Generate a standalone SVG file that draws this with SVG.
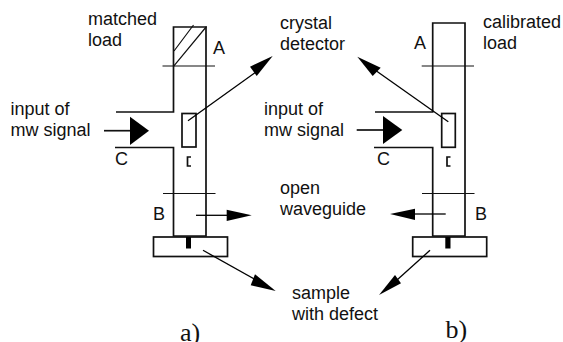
<svg xmlns="http://www.w3.org/2000/svg" width="563" height="342" viewBox="0 0 563 342">
<style>
text{font-family:"Liberation Sans",Arial,sans-serif;font-size:18px;fill:#111}
.s{font-family:"Liberation Serif","Times New Roman",serif;font-size:26px}
.w{fill:none;stroke:#111;stroke-width:1.7}
.t{fill:none;stroke:#111;stroke-width:1.2}
.a{stroke:#000;stroke-width:1.3;fill:none}
.h{fill:#000;stroke:none}
.d{fill:#000;stroke:none}
</style>
<rect width="563" height="342" fill="#fff"/>
<g id="waveguide-a">
<path class="w" d="M116 112H173.500V27H206V236H173.500V147.500H115"/>
<path class="t" d="M162.500 66H215M163 193.500H215.500"/>
<path class="t" d="M174 51L193.500 25M173.500 66.300L206.500 26.500"/>
<rect class="w" x="182" y="113.500" width="14" height="33.500"/>
<path class="w" d="M191 157H187.500V166H191"/>
<rect class="w" x="153.500" y="237" width="74" height="19.500"/>
<rect class="d" x="186" y="237" width="5" height="11.500"/>
</g>
<g id="waveguide-b">
<path class="w" d="M375 112H432.700V23H465V236H432.700V147.500H374"/>
<path class="t" d="M421.700 66H474M422 193.500H474.500"/>
<rect class="w" x="441.700" y="113.500" width="13.600" height="33.800"/>
<path class="w" d="M450.500 157H447V166H450.500"/>
<rect class="w" x="412.700" y="237" width="74" height="19.500"/>
<rect class="d" x="445.300" y="237" width="5.200" height="11.500"/>
</g>
<g id="connectors">
<path class="a" d="M188 120.700L256 72"/><path class="h" d="M272.700 56L250 66.700L256.700 76Z"/>
<path class="a" d="M196 215.300L228 215.300"/><path class="h" d="M251.700 215.300L226.700 209.700V221Z"/>
<path class="a" d="M203 250.300L256 280"/><path class="h" d="M275.700 291L255 274.300L250.700 285.300Z"/>
<path class="w" d="M104 130.700H132"/><path class="h" d="M149 130.700L130 116.700V145Z"/>
<path class="a" d="M448.300 121.700L375 70"/><path class="h" d="M357.300 56.700L372.700 76L380.700 67.700Z"/>
<path class="a" d="M445.700 214L414 214"/><path class="h" d="M390 214L415 208.700V220Z"/>
<path class="a" d="M430 250.300L397 280"/><path class="h" d="M379 295L401 283.300L395 275Z"/>
<path class="w" d="M356.700 130H385"/><path class="h" d="M402.300 130L383 116V144Z"/>
</g>
<g id="labels">
<text x="88" y="25">matched</text><text x="88" y="46">load</text>
<text x="213" y="53.500">A</text>
<text x="10.500" y="115">input of</text><text x="10.500" y="136">mw signal</text>
<text x="115" y="165">C</text><text x="153" y="220">B</text>
<text x="280" y="29">crystal</text><text x="280" y="50">detector</text>
<text x="264" y="115">input of</text><text x="264" y="136">mw signal</text>
<text x="377" y="165">C</text><text x="414" y="49">A</text>
<text x="483" y="27.500">calibrated</text><text x="483" y="48.500">load</text>
<text x="475" y="220">B</text>
<text x="280" y="194">open</text><text x="280" y="214.500">waveguide</text>
<text x="292" y="299">sample</text><text x="292" y="319.500">with defect</text>
<text class="s" x="180" y="340.500">a)</text><text class="s" x="445.500" y="337.500">b)</text>
</g>
</svg>
